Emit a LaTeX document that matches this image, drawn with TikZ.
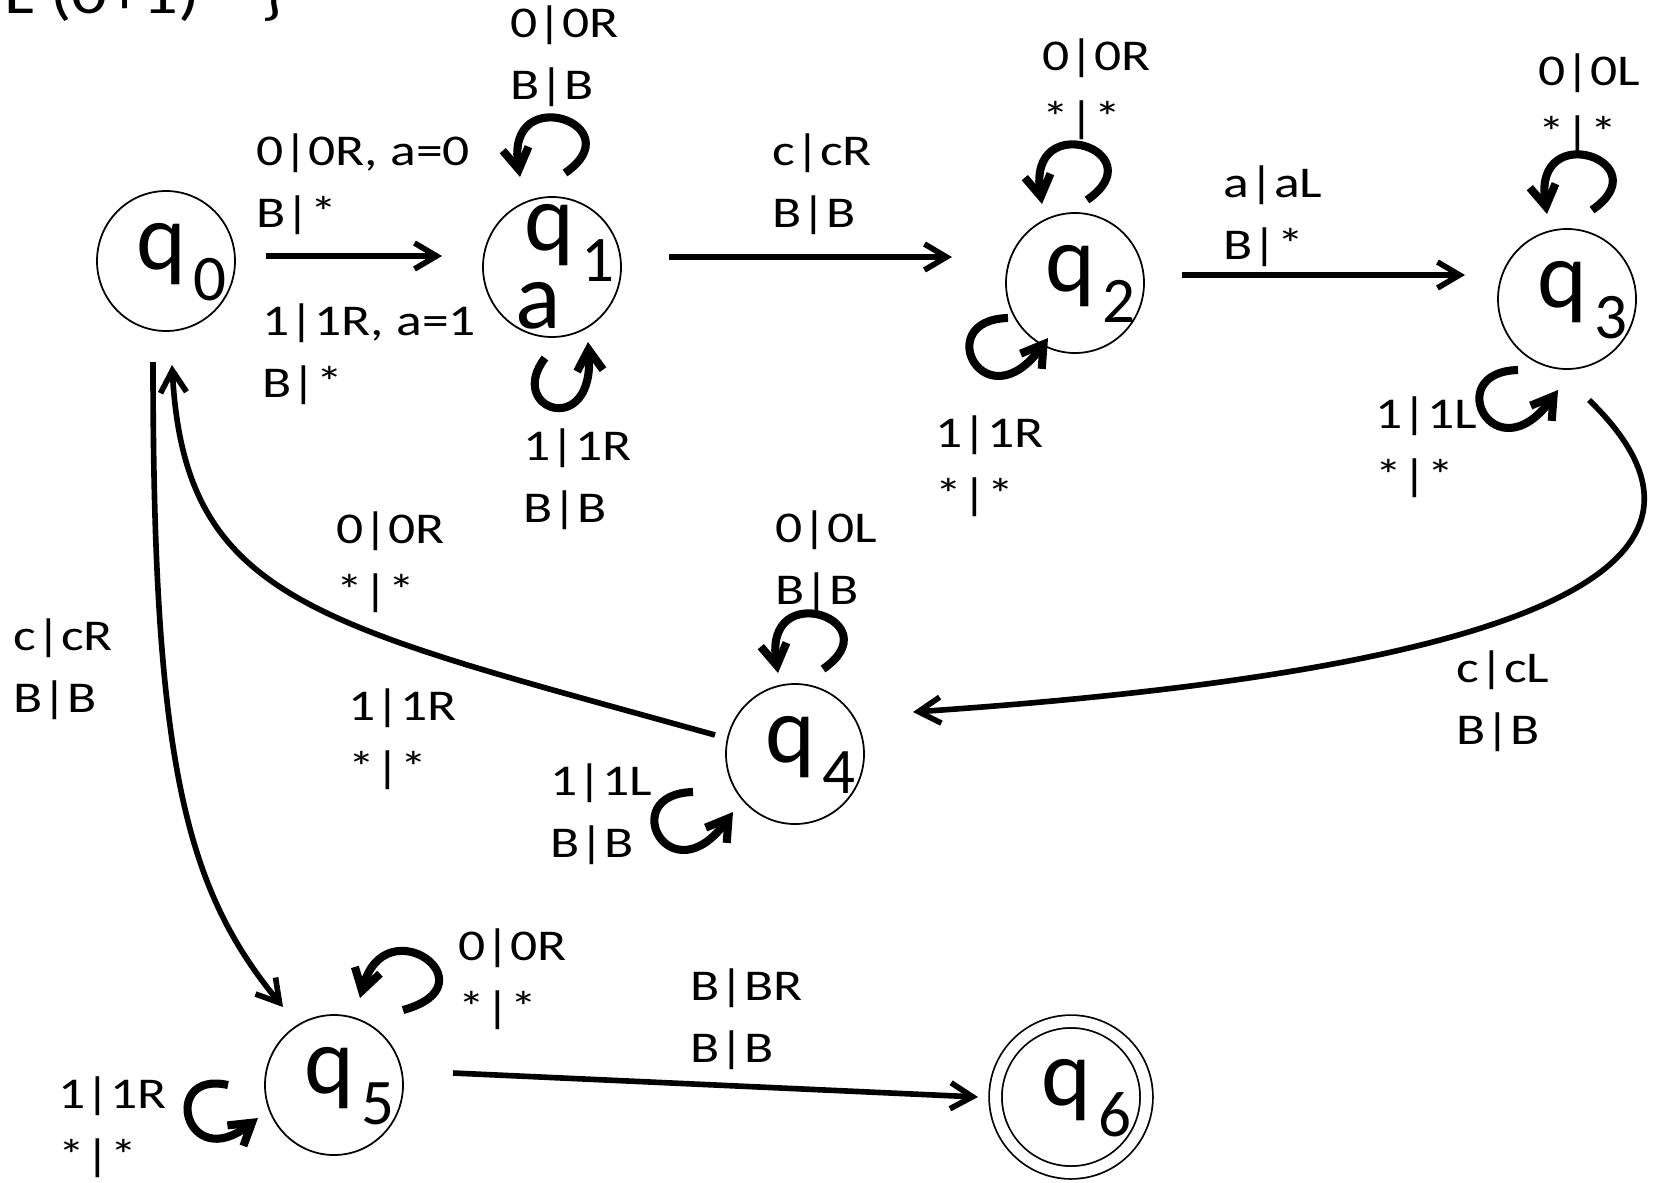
\documentclass[tikz,border=0pt]{standalone}
\usepackage{fontspec}
\setmainfont{Carlito}
\newfontfamily\lblfont[FakeStretch=1.22]{Carlito}
\usetikzlibrary{arrows.meta,calc,shapes.geometric}

% state name: q with a lowered index, kept out of the shape size
\newcommand{\subfont}{\fontsize{18.5}{18.5}\selectfont}
\newcommand{\qsub}[1]{\makebox[0pt][l]{\hspace*{-3mm}\raisebox{-0.8mm}[0pt][0pt]{q\kern0.8mm\raisebox{-3.1mm}{\subfont #1}}}}
% two-line transition label
\newcommand{\twol}[2]{\rule{0pt}{4mm}#1\\#2}

\tikzset{
  state/.style={ellipse, draw, line width=0.5pt, minimum width=1.38cm, minimum height=1.40cm, inner sep=0pt, font=\fontsize{27}{22}\selectfont},
  final/.style={state, double, double distance=1.1mm, minimum width=1.51cm, minimum height=1.51cm},
  trans/.style={line width=1.6pt, -{Straight Barb[length=2.2mm,width=2.6mm]}},
  selfloop/.style={line width=2.3pt, -{Straight Barb[length=2.1mm,width=2.6mm]}},
  tlabel/.style={anchor=north west, inner sep=0pt, align=left, font=\lblfont\fontsize{12.5}{17.6}\selectfont},
}

\begin{document}
\begin{tikzpicture}
\useasboundingbox (0,0) rectangle (16.58,11.82);

\node[anchor=base west, inner sep=0pt, font=\lblfont\fontsize{16.5}{19}\selectfont] (title) at (0.04,11.69) {L (0+1)*\kern1mm\ \}};

% states
\node[state] (q0) at (1.66,9.21) {\qsub{0}};
\node[state] (q1) at (5.52,9.15) {\makebox[0pt][l]{\hspace*{-2.8mm}\raisebox{1.7mm}[0pt][0pt]{q\kern0.8mm\raisebox{-3.1mm}{\subfont 1}}}\makebox[0pt][l]{\hspace*{-3.7mm}\raisebox{-6.1mm}[0pt][0pt]{a}}};
\node[state] (q2) at (10.75,8.99) {\qsub{2}};
\node[state] (q3) at (15.67,8.83) {\qsub{3}};
\node[state] (q4) at (7.95,4.28) {\qsub{4}};
\node[state] (q5) at (3.34,0.97) {\qsub{5}};
\node[final] (q6) at (10.71,0.85) {\qsub{6}};

% transitions
\draw[trans] ($(q0)+(1.00,0.05)$) -- ($(q1)+(-1.10,0.11)$);
\draw[trans] ($(q1)+(1.17,0.10)$) -- ($(q2)+(-1.23,0.26)$);
\draw[trans] ($(q2)+(1.07,0.08)$) -- ($(q3)+(-1.02,0.24)$);
\draw[trans] ($(q3)+(0.22,-1.01)$) .. controls +(1.98,-1.92) and +(5.14,0.35) .. ($(q4)+(1.18,0.42)$);
\draw[trans] ($(q4)+(-0.80,0.19)$) .. controls +(-3.98,1.11) and +(0.13,-2.38) .. ($(q0)+(0.06,-1.04)$);
\draw[trans] ($(q0)+(-0.13,-1.01)$) .. controls +(0,-3.99) and +(-0.98,1.19) .. ($(q5)+(-0.51,0.78)$);
\draw[trans] ($(q5)+(1.19,0.12)$) -- ($(q6)+(-0.93,0)$);

% self loops
\draw[selfloop] ($(q1)+(0.13,0.94)$) .. controls +(0.70,0.48) and +(-0.15,0.97) .. ($(q1)+(-0.32,0.90)$);
\draw[selfloop] ($(q1)+(-0.07,-0.91)$) .. controls +(-0.40,-0.52) and +(0.07,-0.98) .. ($(q1)+(0.36,-0.75)$);
\draw[selfloop] ($(q2)+(0.12,0.83)$) .. controls +(0.70,0.48) and +(-0.15,0.97) .. ($(q2)+(-0.33,0.79)$);
\draw[selfloop] ($(q2)+(-0.67,-0.35)$) .. controls +(-0.78,-0.02) and +(-0.63,-0.87) .. ($(q2)+(-0.27,-0.55)$);
\draw[selfloop] ($(q3)+(0.25,0.89)$) .. controls +(0.70,0.48) and +(-0.15,0.97) .. ($(q3)+(-0.20,0.85)$);
\draw[selfloop] ($(q3)+(-0.49,-0.71)$) .. controls +(-0.78,-0.02) and +(-0.63,-0.87) .. ($(q3)+(-0.09,-0.91)$);
\draw[selfloop] ($(q4)+(0.28,0.85)$) .. controls +(0.70,0.48) and +(-0.15,0.97) .. ($(q4)+(-0.17,0.81)$);
\draw[selfloop] ($(q4)+(-1.02,-0.38)$) .. controls +(-0.78,-0.02) and +(-0.63,-0.87) .. ($(q4)+(-0.62,-0.58)$);
\draw[selfloop] ($(q5)+(0.69,0.75)$) .. controls +(0.92,0.25) and +(0.25,0.93) .. ($(q5)+(0.26,0.87)$);
\draw[selfloop] ($(q5)+(-1.06,0)$) .. controls +(-0.68,0.15) and +(-0.73,-0.57) .. ($(q5)+(-0.76,-0.33)$);

% labels
\node[tlabel] (l01) at (2.56,10.57) {\twol{0|0R, a=0}{B|*}};
\node[tlabel] (l01b) at (2.62,8.87) {\twol{1|1R, a=1}{B|*}};
\node[tlabel] (l11top) at (5.10,11.85) {\twol{0|0R}{B|B}};
\node[tlabel] (l11bot) at (5.23,7.62) {\twol{1|1R}{B|B}};
\node[tlabel] (l12) at (7.72,10.57) {\twol{c|cR}{B|B}};
\node[tlabel] (l22top) at (10.42,11.52) {\twol{0|0R}{*|*}};
\node[tlabel] (l22bot) at (9.35,7.75) {\twol{1|1R}{*|*}};
\node[tlabel] (l23) at (12.23,10.25) {\twol{a|aL}{B|*}};
\node[tlabel] (l33top) at (15.38,11.37) {\twol{0|0L}{*|*}};
\node[tlabel] (l33bot) at (13.75,7.94) {\twol{1|1L}{*|*}};
\node[tlabel] (l34) at (14.56,5.40) {\twol{c|cL}{B|B}};
\node[tlabel] (l40a) at (3.36,6.79) {\twol{0|0R}{*|*}};
\node[tlabel] (l40b) at (3.48,5.02) {\twol{1|1R}{*|*}};
\node[tlabel] (l44top) at (7.75,6.80) {\twol{0|0L}{B|B}};
\node[tlabel] (l44bot) at (5.50,4.27) {\twol{1|1L}{B|B}};
\node[tlabel] (l05) at (0.13,5.72) {\twol{c|cR}{B|B}};
\node[tlabel] (l55top) at (4.58,2.62) {\twol{0|0R}{*|*}};
\node[tlabel] (l55left) at (0.58,1.14) {\twol{1|1R}{*|*}};
\node[tlabel] (l56) at (6.90,2.22) {\twol{B|BR}{B|B}};
\end{tikzpicture}
\end{document}
